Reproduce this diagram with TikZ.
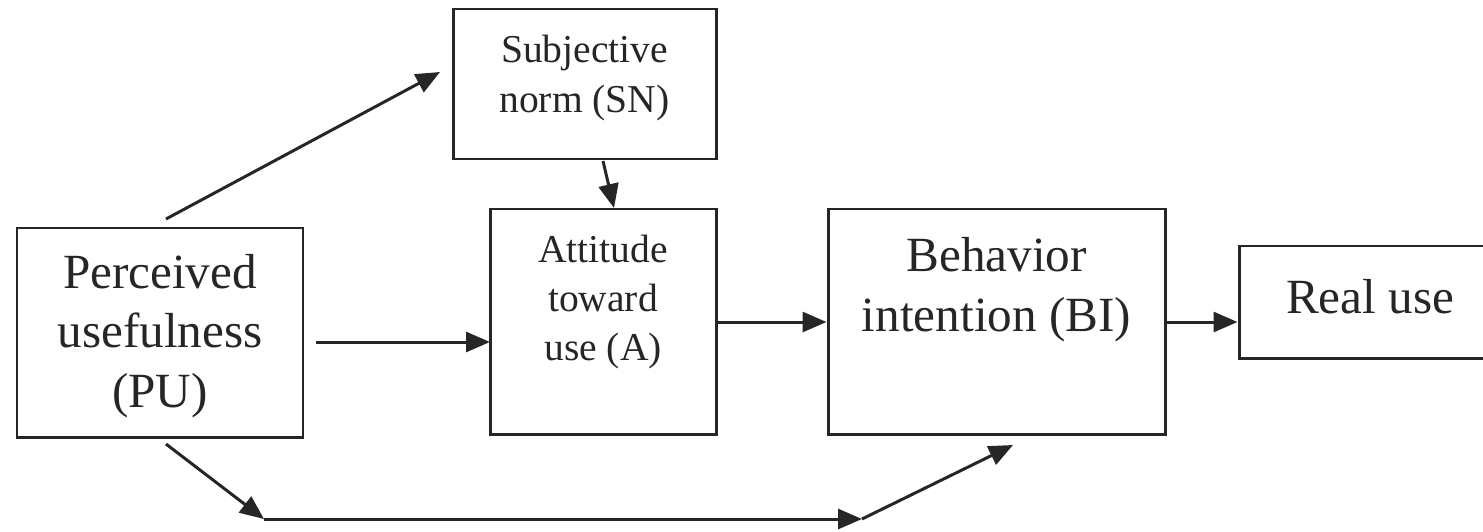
\documentclass[tikz,border=0pt]{standalone}
\usepackage{fontspec}
\setmainfont{Liberation Serif}
\usetikzlibrary{arrows.meta}
\definecolor{ink}{HTML}{262626}
\tikzset{
  box/.style={draw=ink, line width=1.7pt, inner sep=0pt},
  big/.style={text=ink, font=\fontsize{28}{34}\selectfont, align=center, inner sep=0pt},
  small/.style={text=ink, font=\fontsize{22.5}{28}\selectfont, align=center, inner sep=0pt},
  conn/.style={draw=ink, line width=1.7pt, -{Triangle[length=0.48cm,width=0.4cm]}},
  seg/.style={draw=ink, line width=1.7pt}
}
\begin{document}
\begin{tikzpicture}[x=0.02cm,y=-0.02cm]
\useasboundingbox (0,0) rectangle (1483,531);
% boxes
\node[box, minimum width=263*0.02cm, minimum height=150*0.02cm] (SN) at (584.5,84) {};
\node[box, minimum width=286*0.02cm, minimum height=209*0.02cm] (PU) at (160,332.5) {};
\node[box, minimum width=226*0.02cm, minimum height=225*0.02cm] (A) at (603,321.5) {};
\node[box, minimum width=337*0.02cm, minimum height=225*0.02cm] (BI) at (996.5,321.5) {};
\node[box, minimum width=260*0.02cm, minimum height=112*0.02cm] (RU) at (1369,302) {};
% texts
\node[small] (tSN) at (584.5,78) {Subjective\\norm (SN)};
\node[big] (tPU) at (160,336) {Perceived\\usefulness\\(PU)};
\node[small] (tA) at (603,302) {Attitude\\toward\\use (A)};
\node[big] (tBI) at (996.5,290) {Behavior\\intention (BI)};
\node[big] (tRU) at (1370,297) {Real use};
% free ends
\coordinate (p1) at (166,219);
\coordinate (p2) at (440,72);
\coordinate (s1) at (603,161);
\coordinate (s2) at (614,208);
\coordinate (u1) at (316,342);
\coordinate (u2) at (490,342);
\coordinate (a1) at (716,322);
\coordinate (b1) at (1165,322);
\coordinate (q1) at (166,444);
\coordinate (q2) at (264,519);
\coordinate (q3) at (862,519);
\coordinate (q4) at (1013,445);
% connectors
\draw[conn] (p1) -- (p2);
\draw[conn] (s1) -- (s2);
\draw[conn] (u1) -- (u2);
\draw[conn] (a1) -- (a1 -| BI.west);
\draw[conn] (b1) -- (b1 -| RU.west);
\draw[conn] (q1) -- (q2);
\draw[conn] (q2) -- (q3);
\draw[conn] (q3) -- (q4);
\end{tikzpicture}
\end{document}
